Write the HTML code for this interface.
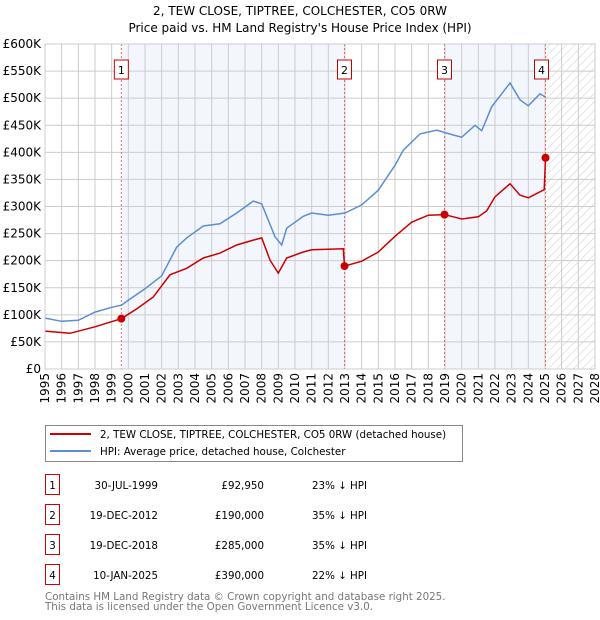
<!DOCTYPE html>
<html><head><meta charset="utf-8"><style>
body{margin:0;width:600px;height:620px;background:#fff;font-family:"DejaVu Sans","Liberation Sans",sans-serif;overflow:hidden}
svg{position:absolute;left:0;top:0}
</style></head><body>
<svg id="chart" width="600" height="620"></svg>
<script>
const hpiYears=[1995,1996,1997,1998,1999,1999.6,2000,2001,2002,2002.9,2003.5,2004.5,2005.5,2006.5,2007.5,2008,2008.8,2009.2,2009.5,2010.5,2011,2012,2013,2014,2015,2016,2016.5,2017.5,2018.5,2019.5,2020,2020.8,2021.2,2021.8,2022.9,2023.5,2024,2024.7,2025.03];
const hpiValues=[94,88,90,105,114,118,127,148,172,225,242,264,268,288,310,305,244,229,260,282,288,284,288,303,330,376,404,434,441,432,428,450,440,484,528,497,486,508,502];
const redYears=[1995,1996.5,1998,1999.58,2000.5,2001.5,2002.5,2003.5,2004.5,2005.5,2006.5,2007.5,2008,2008.5,2009,2009.5,2010.5,2011,2012.9,2012.97,2014,2015,2016,2017,2018,2018.97,2019.5,2020,2021,2021.5,2022,2022.9,2023.5,2024,2024.95,2025.03];
const redValues=[70,66,78,92.95,111,133,174,186,205,214,229,238,242,201,177,205,216,220,222,190,199,216,245,271,284,285,281,277,281,292,318,342,321,316,331,390];
const saleYears=[1999.58,2012.97,2018.97,2025.03];
const saleValues=[92.95,190,285,390];
const saleLabels=["1","2","3","4"];
const yTicks=[0,50,100,150,200,250,300,350,400,450,500,550,600];
const yTickLabels=["£0","£50K","£100K","£150K","£200K","£250K","£300K","£350K","£400K","£450K","£500K","£550K","£600K"];
const xTicks=[1995,1996,1997,1998,1999,2000,2001,2002,2003,2004,2005,2006,2007,2008,2009,2010,2011,2012,2013,2014,2015,2016,2017,2018,2019,2020,2021,2022,2023,2024,2025,2026,2027,2028];
const tableDates=["30-JUL-1999","19-DEC-2012","19-DEC-2018","10-JAN-2025"];
const tablePrices=["£92,950","£190,000","£285,000","£390,000"];
const tableHpi=["23% ↓ HPI","35% ↓ HPI","35% ↓ HPI","22% ↓ HPI"];

const L=45,R=595,T=44,B=369;
const X=y=>L+(y-1995)/(2028-1995)*(R-L);
const Y=v=>B-v/600*(B-T);
const svg=document.getElementById('chart');
const NS='http://www.w3.org/2000/svg';
function mk(tag,attrs,parent){const e=document.createElementNS(NS,tag);for(const k in attrs)e.setAttribute(k,attrs[k]);(parent||svg).appendChild(e);return e;}
let e;
const defs=mk('defs',{});
const pat=mk('pattern',{id:'hatch',width:6,height:6,patternUnits:'userSpaceOnUse',patternTransform:'rotate(45)'},defs);
mk('line',{x1:0,y1:0,x2:0,y2:6,stroke:'#ccc','stroke-width':1},pat);
e=mk('text',{x:300,y:15,'text-anchor':'middle','font-size':12});e.textContent='2, TEW CLOSE, TIPTREE, COLCHESTER, CO5 0RW';

e=mk('text',{x:300,y:32,'text-anchor':'middle','font-size':12});e.textContent="Price paid vs. HM Land Registry's House Price Index (HPI)";

e=mk('rect',{x:X(saleYears[0]),y:T,width:X(saleYears[1])-X(saleYears[0]),height:B-T,fill:'#f3f6fd'});

e=mk('rect',{x:X(saleYears[2]),y:T,width:X(saleYears[3])-X(saleYears[2]),height:B-T,fill:'#f3f6fd'});

e=mk('rect',{x:X(saleYears[3]),y:T,width:R-X(saleYears[3]),height:B-T,fill:'url(#hatch)'});

yTicks.forEach((v,i)=>{
  e=mk('line',{x1:L,x2:R,y1:Y(v),y2:Y(v),stroke:'#ccc','stroke-width':1});
  
  e=mk('text',{x:L-4,y:Y(v)+4,'text-anchor':'end','font-size':12});e.textContent=yTickLabels[i];
  
});
xTicks.forEach(y=>{
  e=mk('line',{x1:X(y),x2:X(y),y1:T,y2:B,stroke:'#ccc','stroke-width':1});
  
  e=mk('text',{transform:`translate(${X(y)+4},${B+4}) rotate(-90)`,'text-anchor':'end','font-size':12});e.textContent=y;
  
});
saleYears.forEach((y,i)=>{
  e=mk('line',{x1:X(y),x2:X(y),y1:T,y2:B,stroke:'#e66','stroke-width':1,'stroke-dasharray':'2,2'});
  
  const bx=X(y)-(i==3?4:0);
  e=mk('rect',{x:bx-7,y:60,width:14,height:19,fill:'#fff',stroke:'#c00','stroke-width':1});
  
  e=mk('text',{x:bx,y:74,'text-anchor':'middle','font-size':11});e.textContent=saleLabels[i];
  
});
const pts=(xs,vs)=>xs.map((y,i)=>X(y).toFixed(1)+','+Y(vs[i]).toFixed(1)).join(' ');
e=mk('polyline',{points:pts(hpiYears,hpiValues),fill:'none',stroke:'#5b8fd0','stroke-width':1.5});

e=mk('polyline',{points:pts(redYears,redValues),fill:'none',stroke:'#cc0000','stroke-width':1.5});

saleYears.forEach((y,i)=>{
  e=mk('circle',{cx:X(y),cy:Y(saleValues[i]),r:4,fill:'#cc0000'});
  
});
mk('rect',{x:L,y:T,width:R-L,height:B-T,fill:'none',stroke:'#ccc'});
e=mk('rect',{x:45.5,y:425.5,width:417,height:36,fill:'#fff',stroke:'#888'});

mk('line',{x1:50,x2:91,y1:434,y2:434,stroke:'#cc0000','stroke-width':2});
e=mk('text',{x:100,y:438,'font-size':10.3});e.textContent='2, TEW CLOSE, TIPTREE, COLCHESTER, CO5 0RW (detached house)';

mk('line',{x1:50,x2:91,y1:451,y2:451,stroke:'#5b8fd0','stroke-width':2});
e=mk('text',{x:100,y:455,'font-size':10.3});e.textContent='HPI: Average price, detached house, Colchester';

tableDates.forEach((d,i)=>{
  const cy=483+i*30;
  e=mk('rect',{x:45.5,y:cy-8.5,width:14,height:20,fill:'#fff',stroke:'#c00'});
  
  e=mk('text',{x:52.5,y:cy+6,'text-anchor':'middle','font-size':10.3});e.textContent=saleLabels[i];
  e=mk('text',{x:158,y:cy+6,'text-anchor':'end','font-size':10.3});e.textContent=d;
  
  e=mk('text',{x:264,y:cy+6,'text-anchor':'end','font-size':10.3});e.textContent=tablePrices[i];
  
  e=mk('text',{x:312,y:cy+6,'font-size':10.3});e.textContent=tableHpi[i];
  
});
e=mk('text',{x:45,y:600,'font-size':10.3,fill:'#777'});e.textContent='Contains HM Land Registry data © Crown copyright and database right 2025.';

e=mk('text',{x:45,y:610,'font-size':10.3,fill:'#777'});e.textContent='This data is licensed under the Open Government Licence v3.0.';

</script>
</body></html>
